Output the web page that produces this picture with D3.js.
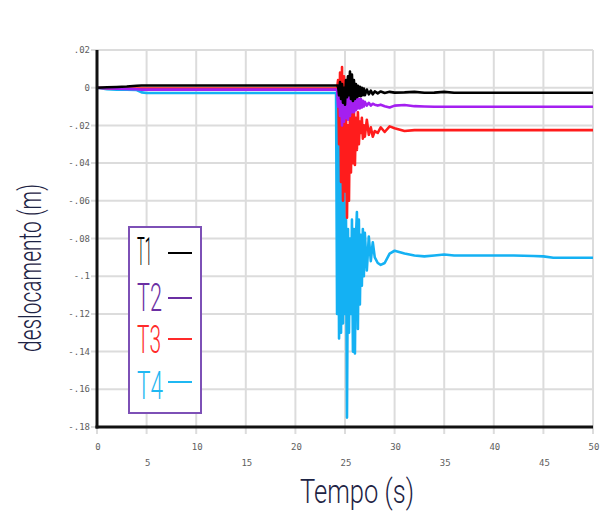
<!DOCTYPE html>
<html>
<head>
<meta charset="utf-8">
<script src="https://cdn.jsdelivr.net/npm/d3@7"></script>
<style>
  body { margin: 0; background: #fff; }
  svg { display: block; }
</style>
</head>
<body>
<svg id="chart" width="609" height="513"></svg>
<script>
// Sample times (s), shared by the four displacement records
const tempo = [
  0, 1, 2, 3, 4, 4.5, 5, 6, 10, 15, 20,
  24.0, 24.1, 24.2, 24.3, 24.4, 24.5, 24.6, 24.7, 24.8, 24.9,
  25.0, 25.1, 25.2, 25.3, 25.4, 25.5, 25.6, 25.7, 25.8, 25.9,
  26.0, 26.1, 26.2, 26.3, 26.4, 26.5, 26.6, 26.7, 26.8, 26.9, 27.0,
  27.2, 27.4, 27.6, 27.8, 28.0,
  28.3, 28.6, 29.0, 29.5, 30,
  31, 32, 33, 34, 35, 36,
  38, 40, 42, 44, 45, 46, 48, 50
];

// Displacement (m) per storey
const T1 = [
  0, 0.0002, 0.0004, 0.0006, 0.0010, 0.0012, 0.0012, 0.0012, 0.0012, 0.0012, 0.0012,
  0.0012, 0.0012, 0.0012, 0.0010, -0.004, 0.003, -0.006, 0.002, -0.008, 0.000,
  -0.009, 0.004, -0.005, 0.006, -0.004, 0.0086, -0.006, 0.007, -0.007, 0.004,
  -0.006, 0.002, -0.005, 0.001, -0.0045, 0.0005, -0.0045, 0.000, -0.004, -0.0005, -0.004,
  -0.001, -0.0035, -0.0015, -0.0035, -0.002,
  -0.003, -0.002, -0.0028, -0.0022, -0.0026,
  -0.0025, -0.0022, -0.0027, -0.0026, -0.0022, -0.0027,
  -0.0027, -0.0027, -0.0027, -0.0027, -0.0027, -0.0027, -0.0027, -0.0027
];
const T2 = [
  0, -0.0003, -0.0005, -0.0006, -0.0008, -0.001, -0.001, -0.001, -0.001, -0.001, -0.001,
  -0.001, -0.001, -0.001, -0.010, 0.000, -0.015, -0.002, -0.020, -0.004, -0.018,
  -0.003, -0.016, -0.002, -0.017, -0.003, -0.015, -0.002, -0.013, -0.003, -0.013,
  -0.004, -0.012, -0.005, -0.011, -0.006, -0.011, -0.006, -0.0105, -0.007, -0.010, -0.0075,
  -0.0095, -0.008, -0.0095, -0.0085, -0.009,
  -0.0095, -0.009, -0.0098, -0.0105, -0.0095,
  -0.0092, -0.0098, -0.010, -0.0101, -0.0101, -0.0101,
  -0.0101, -0.0101, -0.0101, -0.0101, -0.0101, -0.0101, -0.0101, -0.0101
];
const T3 = [
  0, -0.0003, -0.0004, -0.0005, -0.0005, -0.0005, -0.0005, -0.0005, -0.0005, -0.0005, -0.0005,
  -0.0005, -0.0005, -0.0005, 0.004, -0.030, 0.008, -0.050, 0.011, -0.060, 0.006,
  -0.055, -0.010, -0.069, -0.020, -0.060, -0.012, -0.045, -0.010, -0.040, -0.012,
  -0.041, -0.016, -0.033, -0.013, -0.030, -0.018, -0.024, -0.016, -0.027, -0.020, -0.026,
  -0.017, -0.025, -0.021, -0.026, -0.023,
  -0.024, -0.021, -0.0235, -0.0205, -0.0215,
  -0.023, -0.0225, -0.0225, -0.0225, -0.0225, -0.0225,
  -0.0225, -0.0225, -0.0225, -0.0225, -0.0225, -0.0225, -0.0225, -0.0225
];
const T4 = [
  0, -0.0008, -0.001, -0.001, -0.0012, -0.0025, -0.0028, -0.0028, -0.0028, -0.0028, -0.0028,
  -0.0028, -0.0028, -0.120, -0.010, -0.133, -0.020, -0.130, -0.030, -0.125, -0.010,
  -0.120, -0.070, -0.175, -0.075, -0.130, -0.080, -0.120, -0.070, -0.140, -0.075,
  -0.141, -0.080, -0.066, -0.128, -0.070, -0.115, -0.078, -0.105, -0.075, -0.100, -0.077,
  -0.097, -0.079, -0.092, -0.082, -0.090,
  -0.093, -0.094, -0.093, -0.088, -0.0865,
  -0.088, -0.089, -0.0895, -0.089, -0.0885, -0.089,
  -0.089, -0.089, -0.089, -0.0893, -0.0895, -0.0902, -0.0902, -0.0902
];

const seriesNames = ["T1", "T2", "T3", "T4"];
const seriesValues = [T1, T2, T3, T4];
const lineColors = ["#000000", "#a41ff0", "#ff1c1c", "#14b1f3"];
const legendTextColors = ["#000000", "#6b2fa3", "#ff2a2a", "#1fb8f2"];

// Axis ticks
const xTicks = [0, 5, 10, 15, 20, 25, 30, 35, 40, 45, 50];
const xTickLabels = ["0", "5", "10", "15", "20", "25", "30", "35", "40", "45", "50"];
const yTicks = [0.02, 0, -0.02, -0.04, -0.06, -0.08, -0.1, -0.12, -0.14, -0.16, -0.18];
const yTickLabels = [".02", "0", "-.02", "-.04", "-.06", "-.08", "-.1", "-.12", "-.14", "-.16", "-.18"];

const svg = d3.select("#chart");
const plotLeft = 97, plotRight = 593, plotTop = 50, plotBottom = 427;

const x = d3.scaleLinear().domain([0, 50]).range([plotLeft, plotRight]);
const y = d3.scaleLinear().domain([-0.18, 0.02]).range([plotBottom, plotTop]);

// Grid
const grid = svg.append("g").attr("stroke", "#dcdcdc").attr("stroke-width", 2);
grid.selectAll("line.h").data(yTicks).join("line").attr("class", "h")
  .attr("x1", plotLeft - 6).attr("x2", plotRight)
  .attr("y1", d => y(d)).attr("y2", d => y(d));
grid.selectAll("line.v").data(xTicks).join("line").attr("class", "v")
  .attr("x1", d => x(d)).attr("x2", d => x(d))
  .attr("y1", plotTop).attr("y2", plotBottom + 7);

// Tick labels
const tickFont = "'DejaVu Sans Mono', monospace";
svg.append("g").selectAll("text").data(yTicks).join("text")
  .attr("x", plotLeft - 7).attr("y", d => y(d)).attr("dy", "0.35em")
  .attr("text-anchor", "end")
  .attr("font-family", tickFont).attr("font-size", 9).attr("fill", "#5e5e5e")
  .text((d, i) => yTickLabels[i]);
svg.append("g").selectAll("text").data(xTicks).join("text")
  .attr("x", d => x(d) + 1)
  .attr("y", (d, i) => i % 2 === 0 ? 447 : 463).attr("dy", "0.35em")
  .attr("text-anchor", "middle")
  .attr("font-family", tickFont).attr("font-size", 9).attr("fill", "#5e5e5e")
  .text((d, i) => xTickLabels[i]);

// Series (lower storeys drawn first so T1 stays on top)
const line = d3.line().x(d => x(d[0])).y(d => y(d[1]));
for (let k = seriesValues.length - 1; k >= 0; k--) {
  const pts = tempo.map((t, i) => [t, seriesValues[k][i]]);
  svg.append("path").datum(pts)
    .attr("fill", "none")
    .attr("stroke", lineColors[k])
    .attr("stroke-width", 2.6)
    .attr("stroke-linejoin", "round")
    .attr("d", line);
}

// Axis lines
svg.append("line").attr("x1", plotLeft).attr("x2", plotLeft).attr("y1", plotTop).attr("y2", plotBottom + 1.5)
  .attr("stroke", "#111").attr("stroke-width", 3);
svg.append("line").attr("x1", plotLeft - 1.5).attr("x2", plotRight).attr("y1", plotBottom).attr("y2", plotBottom)
  .attr("stroke", "#111").attr("stroke-width", 3);

// Axis titles (thin, condensed lettering)
const titleFont = "'Roboto', 'DejaVu Sans', sans-serif";
svg.append("text")
  .attr("transform", "translate(41,268) rotate(-90)")
  .attr("text-anchor", "middle")
  .attr("font-family", titleFont).attr("font-weight", 300)
  .attr("font-size", 31).attr("fill", "#1d2344")
  .attr("textLength", 168).attr("lengthAdjust", "spacingAndGlyphs")
  .text("deslocamento (m)");
svg.append("text")
  .attr("x", 357).attr("y", 503)
  .attr("text-anchor", "middle")
  .attr("font-family", titleFont).attr("font-weight", 300)
  .attr("font-size", 33).attr("fill", "#1d2344")
  .attr("textLength", 114).attr("lengthAdjust", "spacingAndGlyphs")
  .text("Tempo (s)");

// Legend
const lg = svg.append("g");
lg.append("rect").attr("x", 129).attr("y", 227).attr("width", 72).attr("height", 186)
  .attr("fill", "#fff").attr("stroke", "#7d50b6").attr("stroke-width", 2);
const legendBase = [265, 311, 353, 399];
const legendLineY = [253, 298, 339, 382];
const legendWidth = [15, 25, 24, 26];
seriesNames.forEach((name, i) => {
  lg.append("text")
    .attr("x", 137).attr("y", legendBase[i])
    .attr("font-family", titleFont).attr("font-weight", 300).attr("font-size", 38)
    .attr("fill", legendTextColors[i])
    .attr("textLength", legendWidth[i]).attr("lengthAdjust", "spacingAndGlyphs")
    .text(name);
  lg.append("line")
    .attr("x1", 168).attr("x2", 192)
    .attr("y1", legendLineY[i]).attr("y2", legendLineY[i])
    .attr("stroke", legendTextColors[i]).attr("stroke-width", 2);
});
</script>
</body>
</html>
